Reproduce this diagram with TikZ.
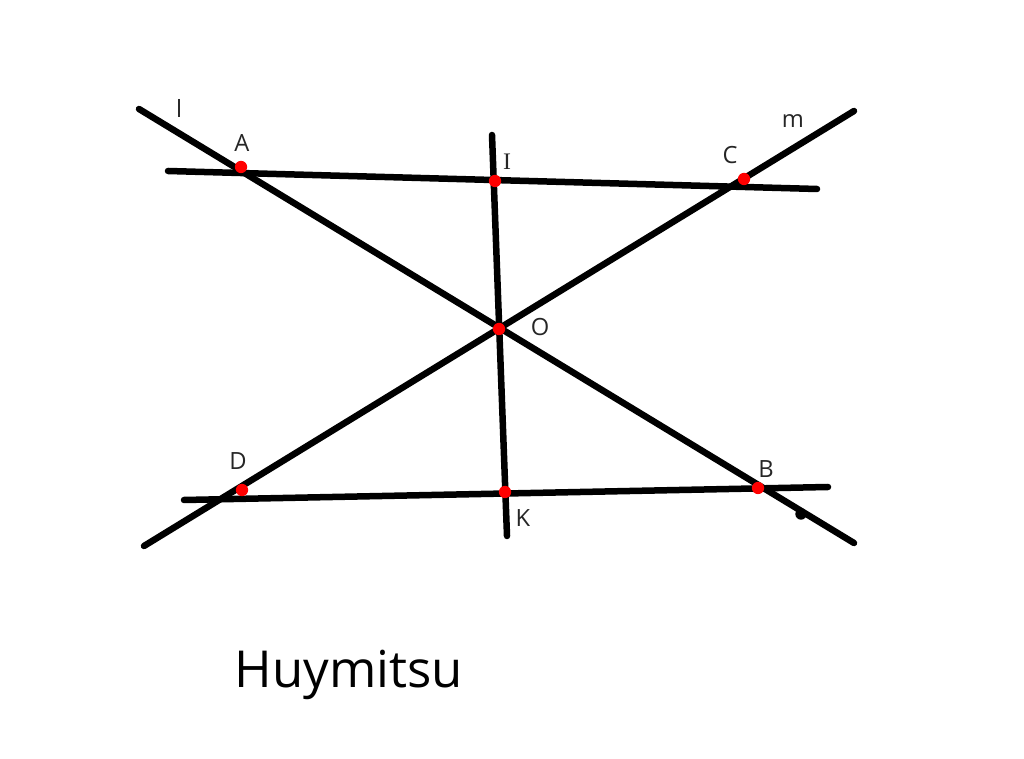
\documentclass[tikz,border=0pt]{standalone}
\usepackage{fontspec}
\setmainfont{Open Sans}
\newfontfamily\serifI{Liberation Serif}
\begin{document}
\begin{tikzpicture}[x=0.02cm,y=-0.02cm,
  geoline/.style={line width=3.7pt,line cap=round,black},
  pt/.style={circle,fill=red,inner sep=0pt,minimum size=7pt},
  lbl/.style={inner sep=0pt,font=\fontsize{13.5}{15}\selectfont,text=black!85}]
\useasboundingbox (0,0) rectangle (1024,759);
\fill[white] (0,0) rectangle (1024,759);
% end points
\coordinate (l1) at (139,109);
\coordinate (l2) at (854,543);
\coordinate (m1) at (144,546);
\coordinate (m2) at (854,111);
\coordinate (t1) at (168,171);
\coordinate (t2) at (817,189);
\coordinate (b1) at (184,500);
\coordinate (b2) at (828,487);
\coordinate (v1) at (492,135);
\coordinate (v2) at (507,536);
% lines
\draw[geoline] (l1) -- (l2);
\draw[geoline] (m1) -- (m2);
\draw[geoline] (t1) -- (t2);
\draw[geoline] (b1) -- (b2);
\draw[geoline] (v1) -- (v2);
% points
\node[pt] (A) at (241,167) {};
\node[pt] (I) at (495,181) {};
\node[pt] (C) at (744,179) {};
\node[pt] (O) at (499,329) {};
\node[pt] (D) at (242,490) {};
\node[pt] (K) at (505,492) {};
\node[pt] (B) at (758,488) {};
\node[circle,fill=black,inner sep=0pt,minimum size=6.5pt] (E) at (801,514) {};
% labels
\node[lbl] (ll) at (179,108) {l};
\node[lbl] (lA) at (242,143) {A};
\node[lbl] (lI) at (507,162) {\serifI I};
\node[lbl] (lC) at (730,155) {C};
\node[lbl] (lm) at (793,121) {m};
\node[lbl] (lO) at (540,327) {O};
\node[lbl] (lD) at (238,461) {D};
\node[lbl] (lK) at (523,518) {K};
\node[lbl] (lB) at (766,469) {B};
\node[inner sep=0pt,font=\fontsize{29}{33}\selectfont,anchor=base] (title) at (349,687) {Huymitsu};
\end{tikzpicture}
\end{document}
